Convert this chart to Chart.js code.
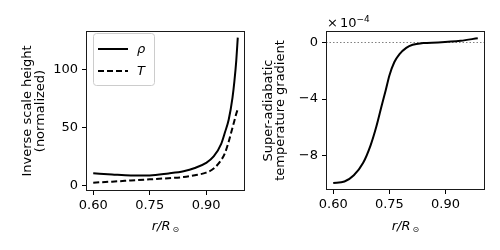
<!DOCTYPE html>
<html>
<head>
<meta charset="utf-8">
<script src="https://cdn.jsdelivr.net/npm/chart.js@4.4.1/dist/chart.umd.min.js"></script>
<style>
  html, body { margin: 0; padding: 0; background: #fff; }
  .panel { position: absolute; top: 0; width: 250px; height: 250px; }
</style>
</head>
<body>
<div class="panel" style="left:0"><canvas id="scaleChart" width="250" height="250"></canvas></div>
<div class="panel" style="left:250px"><canvas id="gradChart" width="250" height="250"></canvas></div>
<script>
// --- Data ---
const radiusLeft = [0.60, 0.65, 0.70, 0.75, 0.80, 0.84, 0.87, 0.90, 0.92, 0.94, 0.95, 0.96, 0.97, 0.975, 0.98, 0.984];
const rhoValues  = [10.4, 9.4, 8.6, 8.6, 10.3, 12.2, 15, 19.5, 25, 36, 46, 57, 76, 90, 108, 128];
const tempValues = [2.3, 3.2, 4.2, 5.2, 6.2, 7.2, 8.8, 11.0, 14.5, 22, 28, 38, 50, 56, 62, 66];

const radiusRight = [0.60, 0.63, 0.655, 0.68, 0.70, 0.715, 0.73, 0.74, 0.75, 0.763, 0.777, 0.795, 0.812, 0.84, 0.88, 0.94, 0.986];
const gradValues  = [-9.92, -9.82, -9.38, -8.5, -7.25, -5.96, -4.4, -3.4, -2.33, -1.40, -0.82, -0.38, -0.16, -0.04, 0.0, 0.12, 0.30]; // x 1e-4

const xTicks = [0.60, 0.75, 0.90];
const yTicksLeft = [0, 50, 100];
const yTicksRight = [0, -4, -8];
const legendLabels = ['ρ', 'T'];

const FONT = '"DejaVu Sans", sans-serif';
const FS = 13;

function toPoints(xs, ys) {
    return xs.map((x, i) => ({ x: x, y: ys[i] }));
}

function fixTicks(values) {
    return function (scale) {
        scale.ticks = values.map(v => ({ value: v }));
    };
}

function minus(v) {
    return String(v).replace('-', '\u2212');
}

// box around the axes + r/R_sun label
const framePlugin = {
    id: 'frame',
    afterDraw(chart) {
        const { ctx, chartArea: a } = chart;
        ctx.save();
        ctx.strokeStyle = '#1a1a1a';
        ctx.lineWidth = 1;
        const l = Math.round(a.left) + 0.5, t = Math.round(a.top) + 0.5;
        const r = Math.round(a.right) - 0.5, b = Math.round(a.bottom) - 0.5;
        ctx.strokeRect(l, t, r - l, b - t);

        // x axis label: italic r/R with a small sun symbol
        const cx = (a.left + a.right) / 2;
        ctx.fillStyle = '#000';
        ctx.textBaseline = 'alphabetic';
        ctx.font = 'italic ' + FS + 'px ' + FONT;
        const w1 = ctx.measureText('r/R').width;
        ctx.font = '8px ' + FONT;
        const w2 = ctx.measureText('\u2299').width;
        const x0 = cx - (w1 + 2 + w2) / 2;
        ctx.font = 'italic ' + FS + 'px ' + FONT;
        ctx.fillText('r/R', x0, 230);
        ctx.font = '8px ' + FONT;
        ctx.fillText('\u2299', x0 + w1 + 2, 232);
        ctx.restore();
    }
};

// legend inside the left axes
const legendPlugin = {
    id: 'boxLegend',
    afterDraw(chart) {
        if (chart.canvas.id !== 'scaleChart') return;
        const { ctx } = chart;
        ctx.save();
        ctx.fillStyle = 'rgba(255,255,255,0.8)';
        ctx.strokeStyle = '#cccccc';
        ctx.lineWidth = 1;
        ctx.beginPath();
        ctx.roundRect(93.5, 33.5, 61, 52, 3);
        ctx.fill();
        ctx.stroke();
        chart.data.datasets.forEach((ds, i) => {
            const y = 49 + i * 22;
            ctx.strokeStyle = ds.borderColor;
            ctx.lineWidth = ds.borderWidth;
            ctx.setLineDash(ds.borderDash || []);
            ctx.beginPath();
            ctx.moveTo(98, y);
            ctx.lineTo(128, y);
            ctx.stroke();
            ctx.setLineDash([]);
            ctx.fillStyle = '#000';
            ctx.font = 'italic ' + FS + 'px ' + FONT;
            ctx.textBaseline = 'middle';
            ctx.fillText(ds.label, 137, y + 1);
        });
        ctx.restore();
    }
};

// dotted zero line and the x10^-4 offset text on the right axes
const zeroPlugin = {
    id: 'zeroLine',
    beforeDatasetsDraw(chart) {
        if (chart.canvas.id !== 'gradChart') return;
        const { ctx, chartArea: a, scales } = chart;
        const y = Math.round(scales.y.getPixelForValue(0)) + 0.5;
        ctx.save();
        ctx.strokeStyle = '#808080';
        ctx.lineWidth = 1;
        ctx.setLineDash([1.5, 2]);
        ctx.beginPath();
        ctx.moveTo(a.left, y);
        ctx.lineTo(a.right, y);
        ctx.stroke();
        ctx.restore();
    },
    afterDraw(chart) {
        if (chart.canvas.id !== 'gradChart') return;
        const { ctx, chartArea: a } = chart;
        ctx.save();
        ctx.fillStyle = '#000';
        ctx.textBaseline = 'alphabetic';
        ctx.font = FS + 'px ' + FONT;
        ctx.fillText('\u00d7', a.left + 1, 27);
        ctx.fillText('10', a.left + 14, 27);
        const w = ctx.measureText('10').width;
        ctx.font = '9px ' + FONT;
        ctx.fillText('\u22124', a.left + 14 + w, 21.5);
        ctx.restore();
    }
};

function axisOptions(opts) {
    return {
        type: 'linear',
        min: opts.min,
        max: opts.max,
        afterBuildTicks: fixTicks(opts.ticks),
        afterFit: opts.afterFit,
        grid: { drawOnChartArea: false, drawTicks: true, tickLength: 4, color: '#000', lineWidth: 1 },
        border: { display: false },
        ticks: {
            color: '#000',
            font: { family: FONT, size: FS },
            padding: opts.padding,
            maxRotation: 0,
            autoSkip: false,
            callback: opts.format
        },
        title: opts.title || { display: false }
    };
}

// --- Left chart: inverse scale heights ---
new Chart(document.getElementById('scaleChart'), {
    type: 'line',
    data: {
        datasets: [{
            label: legendLabels[0],
            data: toPoints(radiusLeft, rhoValues),
            borderColor: '#000',
            borderWidth: 2,
            pointRadius: 0,
            fill: false,
            cubicInterpolationMode: 'monotone'
        }, {
            label: legendLabels[1],
            data: toPoints(radiusLeft, tempValues),
            borderColor: '#000',
            borderWidth: 2,
            borderDash: [6, 3],
            pointRadius: 0,
            fill: false,
            cubicInterpolationMode: 'monotone'
        }]
    },
    options: {
        responsive: false,
        animation: false,
        layout: { padding: { top: 31, right: 5, left: 0, bottom: 0 } },
        plugins: { legend: { display: false }, tooltip: { enabled: false } },
        scales: {
            x: axisOptions({
                min: 0.5808, max: 1.0032, ticks: xTicks, padding: 3,
                format: v => v.toFixed(2),
                afterFit: s => { s.height = 59; }
            }),
            y: axisOptions({
                min: -4.9, max: 133.7, ticks: yTicksLeft, padding: 4,
                format: v => String(v),
                afterFit: s => { s.width = 86; },
                title: {
                    display: true,
                    text: ['Inverse scale height', '(normalized)'],
                    color: '#000',
                    font: { family: FONT, size: FS, lineHeight: 0.98 },
                    padding: { top: 21.5, bottom: 0 }
                }
            })
        }
    },
    plugins: [framePlugin, legendPlugin]
});

// --- Right chart: super-adiabatic gradient ---
new Chart(document.getElementById('gradChart'), {
    type: 'line',
    data: {
        datasets: [{
            label: 'gradient',
            data: toPoints(radiusRight, gradValues),
            borderColor: '#000',
            borderWidth: 2,
            pointRadius: 0,
            fill: false,
            cubicInterpolationMode: 'monotone'
        }]
    },
    options: {
        responsive: false,
        animation: false,
        layout: { padding: { top: 31, right: 15, left: 0, bottom: 0 } },
        plugins: { legend: { display: false }, tooltip: { enabled: false } },
        scales: {
            x: axisOptions({
                min: 0.5807, max: 1.0053, ticks: xTicks, padding: 3,
                format: v => v.toFixed(2),
                afterFit: s => { s.height = 60; }
            }),
            y: axisOptions({
                min: -10.42, max: 0.81, ticks: yTicksRight, padding: 4,
                format: v => minus(v),
                afterFit: s => { s.width = 76; },
                title: {
                    display: true,
                    text: ['Super-adiabatic', 'temperature gradient'],
                    color: '#000',
                    font: { family: FONT, size: FS, lineHeight: 0.95 },
                    padding: { top: 12, bottom: 0 }
                }
            })
        }
    },
    plugins: [framePlugin, zeroPlugin]
});
</script>
</body>
</html>
